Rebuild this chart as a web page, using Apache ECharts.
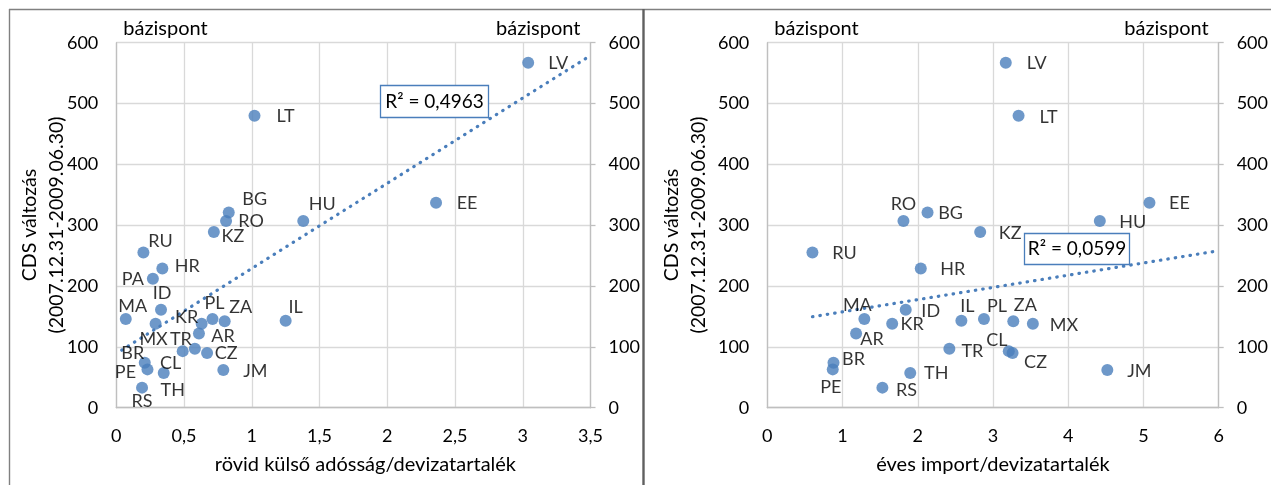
<!DOCTYPE html>
<html>
<head>
<meta charset="utf-8">
<script src="https://cdn.jsdelivr.net/npm/echarts@6/dist/echarts.min.js"></script>
<style>
  html, body { margin: 0; padding: 0; background: #fff; }
  #chart { width: 1271px; height: 485px; }
</style>
</head>
<body>
<div id="chart"></div>
<script>
// országkódok és a két mutató (PA csak a bal oldali ábrán szerepel)
const countries = ['LV', 'LT', 'EE', 'HU', 'BG', 'RO', 'KZ', 'RU', 'HR', 'PA', 'ID', 'MA', 'MX',
  'KR', 'PL', 'ZA', 'AR', 'IL', 'CL', 'TR', 'CZ', 'BR', 'PE', 'TH', 'RS', 'JM'];
const cdsChange = [567, 480, 337, 307, 321, 307, 289, 255, 229, 212, 161, 146, 138,
  138, 146, 142, 122, 143, 93, 97, 90, 74, 63, 57, 33, 62];
const shortDebtRatio = [3.04, 1.02, 2.36, 1.38, 0.83, 0.81, 0.72, 0.20, 0.34, 0.27, 0.33, 0.07, 0.29,
  0.63, 0.71, 0.80, 0.61, 1.25, 0.49, 0.58, 0.67, 0.21, 0.23, 0.35, 0.19, 0.79];
const importRatio = [3.17, 3.34, 5.08, 4.42, 2.13, 1.81, 2.83, 0.60, 2.04, null, 1.84, 1.29, 3.53,
  1.66, 2.88, 3.27, 1.18, 2.58, 3.21, 2.42, 3.26, 0.88, 0.87, 1.90, 1.53, 4.52];

// trendvonalak végpontjai (az ábráról leolvasva)
const leftTrend = [[0.04, 94.5], [3.5, 579]];
const rightTrend = [[0.6, 149.5], [6, 258]];

const leftTicks = ['0', '0,5', '1', '1,5', '2', '2,5', '3', '3,5'];
const rightTicks = ['0', '1', '2', '3', '4', '5', '6'];
const r2Texts = ['R² = 0,4963', 'R² = 0,0599'];

// címkék helye a pont közepéhez képest (px)
const leftLabelOffset = {
  LV: [30, 0], LT: [31, 0], EE: [31, 0], HU: [19, -17], BG: [26, -13], RO: [25, 0], KZ: [19, 4],
  RU: [17, -11], HR: [25, -2], PA: [-20, 0], ID: [1, -17], MA: [7, -13], MX: [-2, 15], KR: [-15, -7],
  PL: [2, -16], ZA: [16, -14], AR: [24, 3], IL: [10, -14], CL: [-12, 12], TR: [-14, -10], CZ: [19, 0],
  BR: [-12, -9], PE: [-22, 3], TH: [9, 17], RS: [0, 14], JM: [32, 1]
};
const rightLabelOffset = {
  LV: [31, 0], LT: [30, 1], EE: [30, 0], HU: [33, 1], BG: [23, 1], RO: [0, -17], KZ: [30, 1],
  RU: [32, 1], HR: [32, 1], ID: [25, 1], MA: [-7, -14], MX: [31, 1], KR: [20, 0], PL: [13, -13],
  ZA: [12, -16], AR: [16, 6], IL: [6, -15], CL: [-12, -11], TR: [23, 2], CZ: [23, 9], BR: [20, -3],
  PE: [-2, 18], TH: [26, 0], RS: [24, 3], JM: [32, 1]
};

const blue = '#4A7EBB';
const font = 'Lato';

function points(xs, offsets) {
  let res = [];
  countries.forEach((c, i) => {
    if (xs[i] === null) return;
    res.push({ name: c, value: [xs[i], cdsChange[i]], label: { offset: offsets[c] } });
  });
  return res;
}

function xAxis(gridIndex, max, interval, ticks, name, namePad) {
  return {
    type: 'value', gridIndex: gridIndex, min: 0, max: max, interval: interval,
    name: name, nameLocation: 'middle', nameGap: 47,
    nameTextStyle: { fontFamily: font, fontSize: 20, color: '#000', padding: namePad },
    axisLine: { show: true, lineStyle: { color: '#bfbfbf', width: 1.3 } },
    axisTick: { show: false },
    axisLabel: { margin: 19, fontFamily: font, fontSize: 18, color: '#000',
      formatter: v => ticks[Math.round(v / interval)] },
    splitLine: { show: true, lineStyle: { color: '#d9d9d9', width: 1.3 } }
  };
}

function yAxis(gridIndex, position) {
  let left = position === 'left';
  return {
    type: 'value', gridIndex: gridIndex, position: position, min: 0, max: 600, interval: 100,
    name: 'bázispont', nameLocation: 'end', nameGap: 4,
    nameTextStyle: { fontFamily: font, fontSize: 20, color: '#000', align: left ? 'left' : 'right',
      padding: left ? [0, 0, 0, 7] : [0, 10, 0, 0] },
    axisLine: { show: true, lineStyle: { color: '#bfbfbf', width: 1.3 } },
    axisTick: { show: !left, length: 5, inside: false, lineStyle: { color: '#bfbfbf', width: 1.3 } },
    axisLabel: { margin: 18, fontFamily: font, fontSize: 18, color: '#000' },
    splitLine: { show: left, lineStyle: { color: '#d9d9d9', width: 1.3 } }
  };
}

function scatter(xIdx, yIdx, data) {
  return {
    type: 'scatter', xAxisIndex: xIdx, yAxisIndex: yIdx, z: 3,
    symbol: 'circle', symbolSize: 12, itemStyle: { color: blue },
    label: { show: true, position: 'inside', formatter: '{b}', color: '#000',
      fontFamily: font, fontSize: 18 },
    data: data
  };
}

function trend(xIdx, yIdx, data) {
  return {
    type: 'line', xAxisIndex: xIdx, yAxisIndex: yIdx, z: 2, symbol: 'none', silent: true,
    lineStyle: { color: blue, width: 3.2, type: [0.5, 7], cap: 'round' },
    data: data
  };
}

// R² doboz: fehér kitöltés, a rácsvonalakat eltakarja
function r2Box(x, y, w, h, text) {
  return [
    { type: 'rect', z: 100, shape: { x: x, y: y, width: w, height: h },
      style: { fill: '#fff', stroke: blue, lineWidth: 1.3 } },
    { type: 'text', z: 101, x: x + w / 2, y: y + h / 2,
      style: { text: text, fill: '#000', font: '19px ' + font, align: 'center', verticalAlign: 'middle' } }
  ];
}

function yTitle(x) {
  return {
    type: 'text', x: x, y: 225, rotation: Math.PI / 2, z: 100,
    style: { text: 'CDS változás\n(2007.12.31-2009.06.30)', fill: '#000', font: '19.5px ' + font,
      align: 'center', verticalAlign: 'middle', lineHeight: 27 }
  };
}

let chartDom = document.getElementById('chart');
let myChart = echarts.init(chartDom);
let option;

option = {
  backgroundColor: '#fff',
  animation: false,
  grid: [
    { left: 116.3, top: 42.7, width: 474.2, height: 365 },
    { left: 767.3, top: 42.7, width: 458.7, height: 365 }
  ],
  xAxis: [
    xAxis(0, 3.5, 0.5, leftTicks, 'rövid külső adósság/devizatartalék', [0, 0, 0, 24]),
    xAxis(1, 6, 1, rightTicks, 'éves import/devizatartalék', [0, 0, 0, 0])
  ],
  yAxis: [yAxis(0, 'left'), yAxis(0, 'right'), yAxis(1, 'left'), yAxis(1, 'right')],
  series: [
    trend(0, 0, leftTrend),
    scatter(0, 0, points(shortDebtRatio, leftLabelOffset)),
    trend(1, 2, rightTrend),
    scatter(1, 2, points(importRatio, rightLabelOffset))
  ],
  graphic: [
    { type: 'line', z: 100, shape: { x1: 9, y1: 9.5, x2: 1271, y2: 9.5 }, style: { stroke: '#808080', lineWidth: 1.4 } },
    { type: 'line', z: 100, shape: { x1: 9.5, y1: 9, x2: 9.5, y2: 485 }, style: { stroke: '#808080', lineWidth: 1.4 } },
    { type: 'line', z: 100, shape: { x1: 643.5, y1: 9, x2: 643.5, y2: 485 }, style: { stroke: '#606060', lineWidth: 2.4 } },
    ...r2Box(380.5, 85.5, 108, 32, r2Texts[0]),
    ...r2Box(1024.5, 233.5, 105, 31, r2Texts[1]),
    yTitle(43),
    yTitle(685)
  ]
};

option && myChart.setOption(option);
</script>
</body>
</html>
